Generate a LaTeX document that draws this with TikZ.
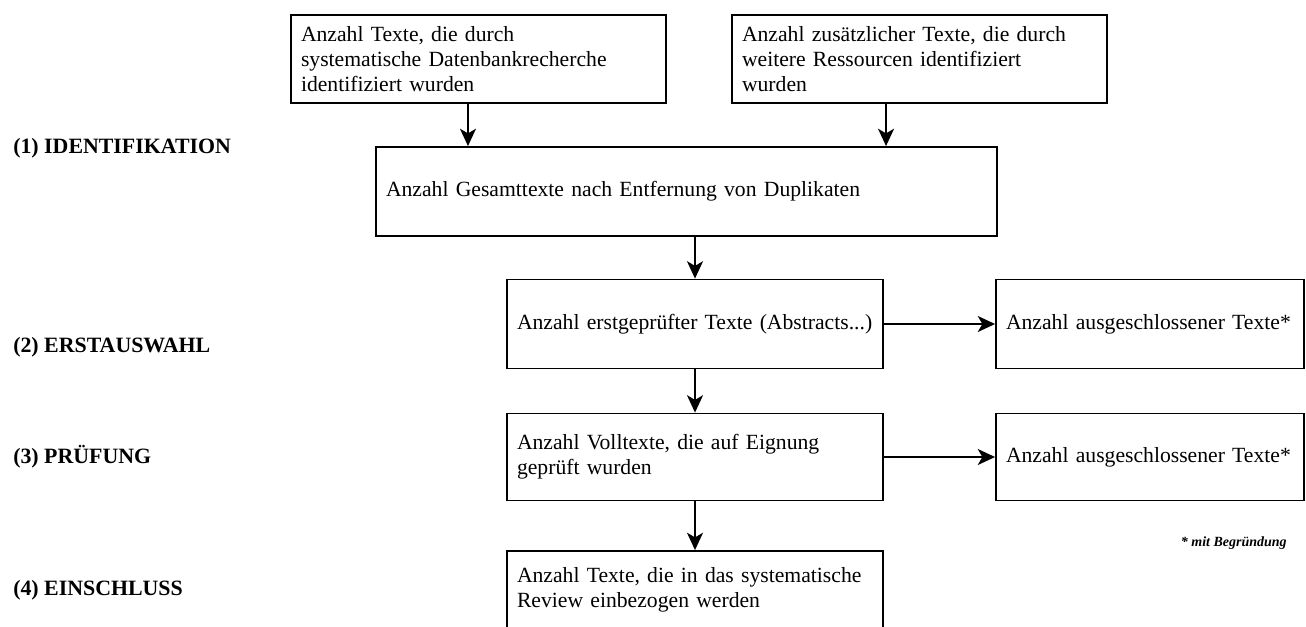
\documentclass[tikz,border=0pt]{standalone}
\usepackage{fontspec}
\setmainfont{Liberation Serif}
\usetikzlibrary{arrows.meta}
\newcommand\kastenschrift{\fontsize{16.25}{19}\selectfont\hyphenpenalty=10000\relax\exhyphenpenalty=10000\relax}
\begin{document}
\begin{tikzpicture}[x=0.75pt,y=-0.75pt]
\tikzset{kasten/.style={draw, line width=1.4pt, rectangle, align=left, inner xsep=7.5pt, inner ysep=0pt, font=\kastenschrift},
pfeil/.style={line width=1.4pt, -{Stealth[length=13pt,width=12pt,inset=3.5pt]}},
phase/.style={anchor=west, inner sep=0pt, font=\fontsize{16.4}{19}\selectfont\bfseries}}
\useasboundingbox (0,0) rectangle (1306,626);
\clip (0,0) rectangle (1306,626);
\node[kasten, text width=266.25pt, minimum height=66pt] (A) at (478.5,59) {Anzahl Texte, die durch\\systematische Datenbankrecherche\\identifiziert wurden};
\node[kasten, text width=266.25pt, minimum height=66pt] (B) at (919.5,59) {Anzahl zusätzlicher Texte, die durch\\weitere Ressourcen identifiziert\\wurden};
\node[kasten, text width=450.75pt, minimum height=66.75pt] (C) at (686.5,191.5) {Anzahl Gesamttexte nach Entfernung von Duplikaten};
\node[kasten, text width=267pt, minimum height=66.75pt] (D) at (695,324) {Anzahl erstgeprüfter Texte (Abstracts...)};
\node[kasten, text width=216pt, minimum height=66.75pt] (E) at (1150,324) {Anzahl ausgeschlossener Texte*};
\node[kasten, text width=267pt, minimum height=65.25pt] (F) at (695,457) {Anzahl Volltexte, die auf Eignung\\geprüft wurden};
\node[kasten, text width=216pt, minimum height=65.25pt] (G) at (1150,457) {Anzahl ausgeschlossener Texte*};
\node[kasten, text width=267pt, minimum height=58.5pt] (H) at (695,590) {Anzahl Texte, die in das systematische\\Review einbezogen werden};
\node[phase] (P1) at (13,148) {(1) IDENTIFIKATION};
\node[phase] (P2) at (13,347) {(2) ERSTAUSWAHL};
\node[phase] (P3) at (13,457) {(3) PRÜFUNG};
\node[phase] (P4) at (13,590) {(4) EINSCHLUSS};
\node[anchor=east, inner sep=0pt, font=\fontsize{10.5}{12}\selectfont\bfseries\itshape] (fn) at (1287,543) {* mit Begründung};
\draw[pfeil] ([xshift=-7.9pt]A.south) -- ([xshift=-7.9pt]A.south |- C.north);
\draw[pfeil] ([xshift=-25.1pt]B.south) -- ([xshift=-25.1pt]B.south |- C.north);
\draw[pfeil] (C.south -| D.north) -- (D.north);
\draw[pfeil] (D) -- (E);
\draw[pfeil] (D) -- (F);
\draw[pfeil] (F) -- (G);
\draw[pfeil] (F) -- (H);
\end{tikzpicture}
\end{document}
